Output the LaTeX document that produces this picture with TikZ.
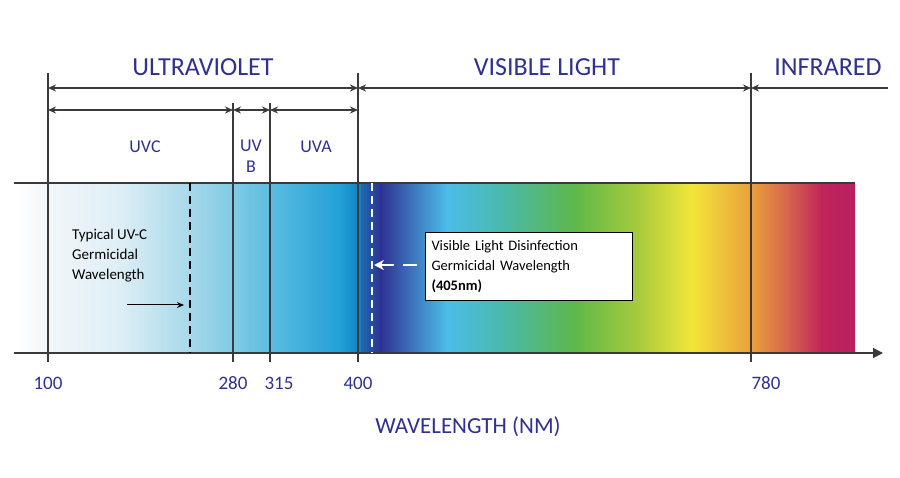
\documentclass[tikz,border=0pt]{standalone}
\usepackage{fontspec}
\setmainfont{Carlito}
\usetikzlibrary{arrows.meta}
\definecolor{navy}{HTML}{2E3192}
\definecolor{ln}{HTML}{3A3A3A}
\tikzset{
  vline/.style={ln,line width=1.5pt},
  dim/.style={ln,line width=1.5pt,{Stealth[length=8pt,width=7pt]}-{Stealth[length=8pt,width=7pt]}},
  hdr/.style={navy,font=\fontsize{26}{26}\selectfont},
  sub/.style={navy,font=\fontsize{18}{21}\selectfont,align=center},
  tick/.style={navy,font=\fontsize{19}{19}\selectfont},
  note/.style={black,font=\fontsize{15}{20}\selectfont,align=left}
}
\begin{document}
\begin{tikzpicture}[x=1pt,y=-1pt]
\useasboundingbox (0,0) rectangle (900,478);
\def\sg#1#2#3#4{\shade[left color=#3,right color=#4] (#1,183) rectangle (#2,353);}
\definecolor{u0}{HTML}{FFFFFF}\definecolor{u1}{HTML}{F2F6F9}\definecolor{u2}{HTML}{DDEEF5}
\definecolor{u3}{HTML}{A6D8EA}\definecolor{u4}{HTML}{7ECBE4}\definecolor{u5}{HTML}{5BBCE0}
\definecolor{u6}{HTML}{22A0D6}\definecolor{u7}{HTML}{0F7EC2}
\definecolor{c1}{HTML}{1E6AB0}\definecolor{c2}{HTML}{2E3192}\definecolor{c3}{HTML}{4BBDE8}
\definecolor{c4}{HTML}{4AB9B0}\definecolor{c5}{HTML}{5DB84A}\definecolor{c6}{HTML}{A9CB3C}
\definecolor{c7}{HTML}{F2E63A}\definecolor{c8}{HTML}{E8A03C}\definecolor{c9}{HTML}{D5614F}
\definecolor{c10}{HTML}{C0255A}\definecolor{c11}{HTML}{B81F5F}
\sg{14}{49}{u0}{u1}
\sg{48}{121}{u1}{u2}
\sg{120}{191}{u2}{u3}
\sg{190}{234}{u3}{u4}
\sg{233}{271}{u4}{u5}
\sg{270}{341}{u5}{u6}
\sg{340}{362}{u6}{u7}
\sg{361}{381}{c1}{c2}
\sg{380}{447}{c2}{c3}
\sg{446}{500}{c3}{c4}
\sg{499}{575}{c4}{c5}
\sg{574}{640}{c5}{c6}
\sg{639}{692}{c6}{c7}
\sg{691}{752}{c7}{c8}
\sg{751}{790}{c8}{c9}
\sg{789}{822}{c9}{c10}
\sg{821}{855}{c10}{c11}
\coordinate (tl) at (14,183); \coordinate (tr) at (855,183);
\coordinate (bl) at (14,353); \coordinate (br) at (883,353);
\draw[vline] (tl) -- (tr);
\draw[vline,-{Triangle[length=10pt,width=10pt]}] (bl) -- (br);
\foreach \n/\x/\t in {a/48/73,b/233/103,c/270/103,d/358/73,e/751/73}{
  \coordinate (\n t) at (\x,\t); \coordinate (\n b) at (\x,362);
  \draw[vline] (\n t) -- (\n b);
  \coordinate (\n1) at (\x,88); \coordinate (\n2) at (\x,110);
}
\coordinate (f1) at (888,88);
\draw[dim] (a1) -- (d1);
\draw[dim] (d1) -- (e1);
\draw[vline,{Stealth[length=8pt,width=7pt]}-] (e1) -- (f1);
\draw[dim] (a2) -- (b2);
\draw[dim] (b2) -- (c2);
\draw[dim] (c2) -- (d2);
\node[hdr] (uv) at (203,67) {ULTRAVIOLET};
\node[hdr] (vis) at (547,67) {VISIBLE LIGHT};
\node[hdr] (ir) at (828,67) {INFRARED};
\node[sub] (uvc) at (145,147) {UVC};
\node[sub] (uvb) at (251,156) {UV\\B};
\node[sub] (uva) at (316,147) {UVA};
\foreach \n/\x/\t in {t1/48/100,t2/233/280,t3/279/315,t4/358/400,t5/766/780}{
  \node[tick] (\n) at (\x,383) {\t};}
\node[hdr,font=\fontsize{23}{23}\selectfont] (wl) at (468,427) {WAVELENGTH (NM)};
\coordinate (g1) at (190,183); \coordinate (g2) at (190,353);
\draw[black,line width=2.2pt,dash pattern=on 8pt off 5pt] (g1) -- (g2);
\node[note,anchor=north west,inner sep=0pt] (tuv) at (72,229) {Typical UV-C\\Germicidal\\Wavelength};
\coordinate (ua) at (127,305); \coordinate (ub) at (184,305);
\draw[black,line width=1pt,-{Stealth[length=7pt,width=6pt]}] (ua) -- (ub);
\coordinate (w1) at (372,183); \coordinate (w2) at (372,353);
\draw[white,line width=2.2pt,dash pattern=on 8pt off 5pt] (w1) -- (w2);
\node[note,font=\fontsize{14.5}{20}\selectfont,draw=black,fill=white,line width=1pt,anchor=north west,minimum width=207pt,minimum height=68pt,text width=195pt,inner sep=3pt] (box) at (425,232) {Visible Light Disinfection\\Germicidal Wavelength\\\textbf{(405nm)}};
\coordinate (wa) at (374,265);
\draw[white,line width=2.4pt,dash pattern=on 14pt off 9pt,{Stealth[length=10pt,width=10pt]}-] (wa) -- (box.west|-wa);
\end{tikzpicture}
\end{document}
